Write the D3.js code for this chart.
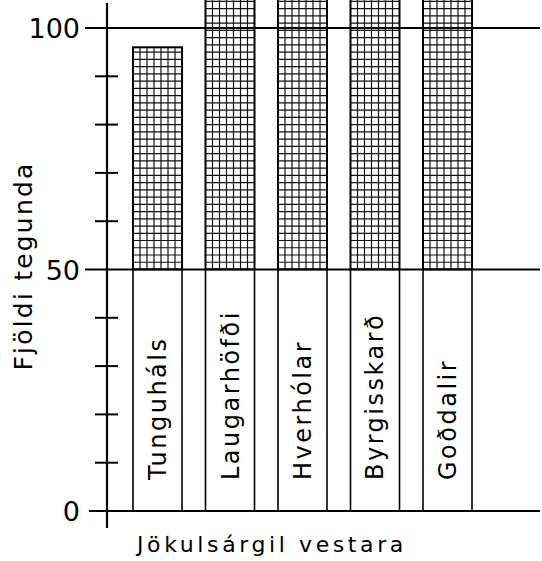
<!DOCTYPE html>
<html>
<head>
<meta charset="utf-8">
<script src="https://cdn.jsdelivr.net/npm/d3@7/dist/d3.min.js"></script>
<style>
  html, body { margin: 0; padding: 0; background: #fff; }
  svg { display: block; }
  text { font-family: "DejaVu Sans", sans-serif; fill: #000; }
</style>
</head>
<body>
<script>
// Species counts per locality in the western Jökulsárgil gorge
const localities = ["Tunguháls", "Laugarhöfði", "Hverhólar", "Byrgisskarð", "Goðdalir"];
const speciesCount = [96, 121, 126, 117, 112];
const majorTicks = [0, 50, 100];
const minorTicks = [10, 20, 30, 40, 60, 70, 80, 90];
const yTitle = "Fjöldi tegunda";
const xTitle = "Jökulsárgil vestara";

const W = 542, H = 561;
const svg = d3.select("body").append("svg").attr("width", W).attr("height", H);

const y = d3.scaleLinear().domain([0, 100]).range([511, 28]);
const x = d3.scaleBand().domain(localities).range([133, 472])
  .paddingInner(0.324).paddingOuter(0);
const axisX = 107;
const split = 50; // lower half of each column is left white for the name

const bars = svg.append("g");
localities.forEach((name, i) => {
  const x0 = x(name), bw = x.bandwidth();
  const top = Math.max(y(speciesCount[i]), -4);
  const g = bars.append("g");

  // cross-hatched upper part
  const nCols = 7;
  d3.range(1, nCols).forEach(k => {
    g.append("line")
      .attr("x1", x0 + k * bw / nCols).attr("x2", x0 + k * bw / nCols)
      .attr("y1", y(split)).attr("y2", top)
      .attr("stroke", "#111").attr("stroke-width", 1.2);
  });
  for (let v = split + 1.5; y(v) > top; v += 1.5) {
    g.append("line")
      .attr("x1", x0).attr("x2", x0 + bw)
      .attr("y1", y(v)).attr("y2", y(v))
      .attr("stroke", "#111").attr("stroke-width", 1.2);
  }
  g.append("rect")
    .attr("x", x0).attr("y", top)
    .attr("width", bw).attr("height", y(split) - top)
    .attr("fill", "none").attr("stroke", "#000").attr("stroke-width", 2);

  // white lower part
  g.append("rect")
    .attr("x", x0).attr("y", y(split))
    .attr("width", bw).attr("height", y(0) - y(split))
    .attr("fill", "#fff").attr("stroke", "#000").attr("stroke-width", 1.6);

  g.append("text")
    .attr("transform", `translate(${x0 + bw / 2 + 8.5},480) rotate(-90)`)
    .attr("font-size", 24)
    .attr("letter-spacing", "2.5px")
    .text(name);
});

// major gridlines at 0, 50, 100
svg.append("g").selectAll("line").data(majorTicks).join("line")
  .attr("x1", d => d === 0 ? 89 : 85).attr("x2", 540)
  .attr("y1", d => y(d)).attr("y2", d => y(d))
  .attr("stroke", "#000").attr("stroke-width", 2.2);

// y axis line
svg.append("line")
  .attr("x1", axisX).attr("x2", axisX).attr("y1", 3).attr("y2", 528)
  .attr("stroke", "#000").attr("stroke-width", 2.2);

// minor ticks crossing the axis
svg.append("g").selectAll("line").data(minorTicks).join("line")
  .attr("x1", axisX - 12).attr("x2", axisX + 11)
  .attr("y1", d => y(d)).attr("y2", d => y(d))
  .attr("stroke", "#000").attr("stroke-width", 2);

// tick labels
svg.append("g").selectAll("text").data(majorTicks).join("text")
  .attr("x", 80).attr("y", d => y(d) + 10)
  .attr("text-anchor", "end")
  .attr("font-family", "Liberation Sans, sans-serif")
  .attr("font-size", 27)
  .text(d => d);

// axis titles
svg.append("text")
  .attr("transform", "translate(32,266) rotate(-90)")
  .attr("text-anchor", "middle")
  .attr("font-size", 25)
  .attr("letter-spacing", "2.2px")
  .text(yTitle);

svg.append("text")
  .attr("x", 137).attr("y", 552)
  .attr("font-size", 22)
  .attr("letter-spacing", "3.6px")
  .text(xTitle);
</script>
</body>
</html>
